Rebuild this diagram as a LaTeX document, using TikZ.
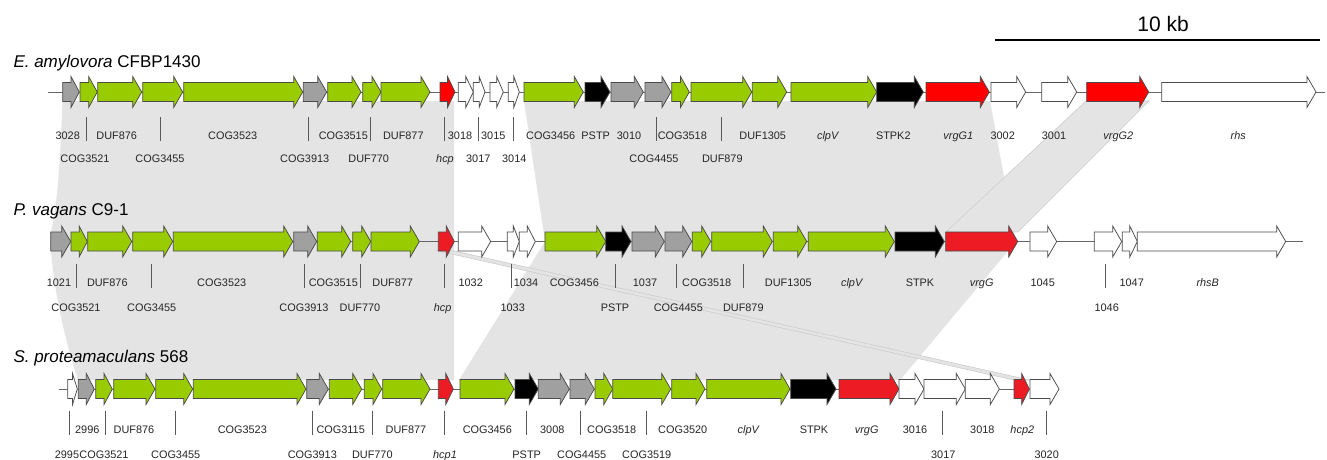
\documentclass[tikz,border=0pt]{standalone}
\usepackage{fontspec}
\setmainfont{Liberation Sans}
\definecolor{genegreen}{RGB}{153,204,0}
\definecolor{genegray}{RGB}{160,160,160}
\definecolor{redA}{RGB}{255,0,0}
\definecolor{redB}{RGB}{237,28,36}
\definecolor{bandfill}{RGB}{228,228,228}
\definecolor{bandedge}{RGB}{205,205,205}
\definecolor{outline}{RGB}{75,75,75}
\newcounter{labno}
% gene arrow: start x, end x, row centre y, fill colour
\newcommand\genearrow[4]{%
  \pgfmathsetmacro\headlen{min(9,0.5*(#2-#1))}%
  \draw[genestyle,fill=#4] ({#1},{#3-9.5}) -- ({#2-\headlen},{#3-9.5}) -- ({#2-\headlen},{#3-15.5})
    -- ({#2},{#3}) -- ({#2-\headlen},{#3+15.5}) -- ({#2-\headlen},{#3+9.5}) -- ({#1},{#3+9.5}) -- cycle;}
% gene label: centre x, baseline y, text
\newcommand\genelab[3]{\stepcounter{labno}\node[lab] (lab\arabic{labno}) at (#1,#2) {#3};}
% label tick: x, top y, bottom y
\newcommand\labtick[3]{\draw[tickline] (#1,#2) -- (#1,#3);}
\tikzset{
  genestyle/.style={draw=outline,line width=0.75pt,line join=miter},
  lab/.style={anchor=base,inner sep=0pt,font=\fontsize{10.9}{12}\selectfont,text=black!85},
  tickline/.style={draw=black!65,line width=1pt},
  backbone/.style={draw=black!60,line width=1pt},
  band/.style={fill=bandfill,draw=none},
  strip/.style={fill=bandfill,draw=bandedge,line width=0.6pt},
  title/.style={anchor=base west,inner sep=0pt,font=\fontsize{17}{20}\selectfont},
}
\begin{document}
\begin{tikzpicture}[x=1pt,y=-1pt]
\useasboundingbox (0,0) rectangle (1327,459);
\fill[white] (0,0) rectangle (1327,459);

% ---- comparison bands ----
\fill[band] (62.5,101) -- (454,101) -- (454,241.5) -- (50.7,241.5) -- (51,232) .. controls (57,205) and (60,170) .. cycle;
\fill[band] (524,101) -- (990,101) -- (1016,241.5) -- (545,241.5) -- cycle;
\filldraw[strip] (1086,101) -- (1149,101) -- (1018,232) -- (946,232) -- cycle;
\fill[band] (50.7,241.5) -- (454,241.5) -- (454,380) -- (78,380) .. controls (68,350) and (55,300) .. (51,251) -- cycle;
\fill[band] (545,241.5) -- (1016,241.5) -- (900,380) -- (459,380) -- cycle;
\filldraw[strip] (438.3,251) -- (454.3,251) -- (1029.3,380) -- (1014,380) -- cycle;

% ---- scale bar ----
\draw[line width=2pt] (995,40) -- (1320,40);
\node[anchor=base,inner sep=0pt,font=\fontsize{21}{24}\selectfont] (scale) at (1163,31.7) {10 kb};

% ---- titles ----
\node[title] (t1) at (13.3,67.3) {\itshape E. amylovora\upshape{} CFBP1430};
\node[title] (t2) at (13.3,215.7) {\itshape P. vagans\upshape{} C9-1};
\node[title] (t3) at (13.3,362.7) {\itshape S. proteamaculans\upshape{} 568};

% ---- row 1 ----
\def\ry{92}
\draw[backbone] (48,\ry) -- (1325,\ry);
\genearrow{62.7}{79.3}{\ry}{genegray}
\genearrow{80}{97.3}{\ry}{genegreen}
\genearrow{97.7}{141.7}{\ry}{genegreen}
\genearrow{142.7}{182.7}{\ry}{genegreen}
\genearrow{183.7}{302.7}{\ry}{genegreen}
\genearrow{303.3}{326.7}{\ry}{genegray}
\genearrow{327.7}{361}{\ry}{genegreen}
\genearrow{362.7}{381}{\ry}{genegreen}
\genearrow{381}{430}{\ry}{genegreen}
\genearrow{440}{455}{\ry}{redA}
\genearrow{458.3}{473.3}{\ry}{white}
\genearrow{473.3}{485}{\ry}{white}
\genearrow{490}{503.3}{\ry}{white}
\genearrow{508.3}{519.3}{\ry}{white}
\genearrow{524}{583.3}{\ry}{genegreen}
\genearrow{585}{610}{\ry}{black}
\genearrow{611}{643.3}{\ry}{genegray}
\genearrow{645}{671}{\ry}{genegray}
\genearrow{671.7}{689.3}{\ry}{genegreen}
\genearrow{691}{751.7}{\ry}{genegreen}
\genearrow{752.3}{786.7}{\ry}{genegreen}
\genearrow{791}{876.7}{\ry}{genegreen}
\genearrow{876.7}{923.3}{\ry}{black}
\genearrow{926}{989.3}{\ry}{redA}
\genearrow{991}{1025.7}{\ry}{white}
\genearrow{1041.7}{1076.7}{\ry}{white}
\genearrow{1086.7}{1148.7}{\ry}{redA}
\genearrow{1161.7}{1316}{\ry}{white}

\def\ua{139.3}\def\la{162}\def\tta{117.3}\def\tba{140.7}
\genelab{67.7}{\ua}{3028}
\genelab{116.7}{\ua}{DUF876}
\genelab{232.7}{\ua}{COG3523}
\genelab{343.3}{\ua}{COG3515}
\genelab{403.3}{\ua}{DUF877}
\genelab{460}{\ua}{3018}
\genelab{493.3}{\ua}{3015}
\genelab{550.7}{\ua}{COG3456}
\genelab{595.7}{\ua}{PSTP}
\genelab{629}{\ua}{3010}
\genelab{682.3}{\ua}{COG3518}
\genelab{762.7}{\ua}{DUF1305}
\genelab{827.7}{\ua}{\itshape clpV}
\genelab{893.3}{\ua}{STPK2}
\genelab{958.3}{\ua}{\itshape vrgG1}
\genelab{1002.7}{\ua}{3002}
\genelab{1054}{\ua}{3001}
\genelab{1118.3}{\ua}{\itshape vrgG2}
\genelab{1238.3}{\ua}{\itshape rhs}
\labtick{86}{\tta}{\tba}
\labtick{160}{\tta}{\tba}
\labtick{308.7}{\tta}{\tba}
\labtick{370}{\tta}{\tba}
\labtick{444.3}{\tta}{\tba}
\labtick{478.3}{\tta}{\tba}
\labtick{513.3}{\tta}{\tba}
\labtick{656}{\tta}{\tba}
\labtick{721}{\tta}{\tba}
\genelab{85}{\la}{COG3521}
\genelab{160}{\la}{COG3455}
\genelab{304.7}{\la}{COG3913}
\genelab{368.7}{\la}{DUF770}
\genelab{445}{\la}{\itshape hcp}
\genelab{478.3}{\la}{3017}
\genelab{514.3}{\la}{3014}
\genelab{654}{\la}{COG4455}
\genelab{722.3}{\la}{DUF879}

% ---- row 2 ----
\def\ry{241.5}
\draw[backbone] (50.7,\ry) -- (1302.7,\ry);
\genearrow{50.7}{70.7}{\ry}{genegray}
\genearrow{71}{87.3}{\ry}{genegreen}
\genearrow{87.7}{131.7}{\ry}{genegreen}
\genearrow{132.7}{172.7}{\ry}{genegreen}
\genearrow{173.3}{292.7}{\ry}{genegreen}
\genearrow{293.7}{316.7}{\ry}{genegray}
\genearrow{317.3}{350.7}{\ry}{genegreen}
\genearrow{352.7}{370.7}{\ry}{genegreen}
\genearrow{371}{419.3}{\ry}{genegreen}
\genearrow{438.3}{454.3}{\ry}{redB}
\genearrow{458.3}{490.7}{\ry}{white}
\genearrow{507.3}{519.3}{\ry}{white}
\genearrow{519.3}{535.3}{\ry}{white}
\genearrow{545}{605.7}{\ry}{genegreen}
\genearrow{605.7}{631}{\ry}{black}
\genearrow{632}{664.3}{\ry}{genegray}
\genearrow{665}{691.7}{\ry}{genegray}
\genearrow{692.3}{710.7}{\ry}{genegreen}
\genearrow{711.7}{772.3}{\ry}{genegreen}
\genearrow{773.3}{806.7}{\ry}{genegreen}
\genearrow{808.3}{894.3}{\ry}{genegreen}
\genearrow{895}{944.3}{\ry}{black}
\genearrow{945.7}{1017.7}{\ry}{redB}
\genearrow{1030}{1056.7}{\ry}{white}
\genearrow{1094.3}{1121.7}{\ry}{white}
\genearrow{1122.3}{1137.3}{\ry}{white}
\genearrow{1137.3}{1285.7}{\ry}{white}

\def\ub{286.7}\def\lb{311}\def\ttb{264.3}\def\tbb{288.3}
\genelab{59}{\ub}{1021}
\genelab{107.3}{\ub}{DUF876}
\genelab{221.7}{\ub}{COG3523}
\genelab{333.3}{\ub}{COG3515}
\genelab{392.7}{\ub}{DUF877}
\genelab{470.7}{\ub}{1032}
\genelab{526}{\ub}{1034}
\genelab{574.3}{\ub}{COG3456}
\genelab{645}{\ub}{1037}
\genelab{706.7}{\ub}{COG3518}
\genelab{788.3}{\ub}{DUF1305}
\genelab{851.7}{\ub}{\itshape clpV}
\genelab{920}{\ub}{STPK}
\genelab{981.7}{\ub}{\itshape vrgG}
\genelab{1042.7}{\ub}{1045}
\genelab{1131.7}{\ub}{1047}
\genelab{1207.7}{\ub}{\itshape rhsB}
\labtick{76}{\ttb}{\tbb}
\labtick{151.7}{\ttb}{\tbb}
\labtick{304}{\ttb}{\tbb}
\labtick{360}{\ttb}{\tbb}
\labtick{444}{\ttb}{\tbb}
\labtick{511.7}{\ttb}{\tbb}
\labtick{615}{\ttb}{\tbb}
\labtick{676.7}{\ttb}{\tbb}
\labtick{743.3}{\ttb}{\tbb}
\labtick{1105.7}{\ttb}{\tbb}
\genelab{76}{\lb}{COG3521}
\genelab{151.7}{\lb}{COG3455}
\genelab{304}{\lb}{COG3913}
\genelab{360}{\lb}{DUF770}
\genelab{442.7}{\lb}{\itshape hcp}
\genelab{512.7}{\lb}{1033}
\genelab{615}{\lb}{PSTP}
\genelab{678.3}{\lb}{COG4455}
\genelab{743.3}{\lb}{DUF879}
\genelab{1106.7}{\lb}{1046}

% ---- row 3 ----
\def\ry{389}
\draw[backbone] (59.3,\ry) -- (1030,\ry);
\genearrow{67.7}{77.3}{\ry}{white}
\genearrow{78.3}{94.3}{\ry}{genegray}
\genearrow{95.7}{112.3}{\ry}{genegreen}
\genearrow{113.7}{155}{\ry}{genegreen}
\genearrow{155.7}{192.7}{\ry}{genegreen}
\genearrow{193.3}{306}{\ry}{genegreen}
\genearrow{306.7}{328.3}{\ry}{genegray}
\genearrow{329.3}{361.7}{\ry}{genegreen}
\genearrow{364.3}{381.7}{\ry}{genegreen}
\genearrow{382.7}{430}{\ry}{genegreen}
\genearrow{438.3}{453.3}{\ry}{redB}
\genearrow{460}{514}{\ry}{genegreen}
\genearrow{515}{538.3}{\ry}{black}
\genearrow{538.3}{569.3}{\ry}{genegray}
\genearrow{570}{594.3}{\ry}{genegray}
\genearrow{595}{612.7}{\ry}{genegreen}
\genearrow{612.7}{670.7}{\ry}{genegreen}
\genearrow{671.7}{705}{\ry}{genegreen}
\genearrow{706.7}{790}{\ry}{genegreen}
\genearrow{790.7}{836}{\ry}{black}
\genearrow{839}{899}{\ry}{redB}
\genearrow{899}{924}{\ry}{white}
\genearrow{924}{965.3}{\ry}{white}
\genearrow{965.3}{999.3}{\ry}{white}
\genearrow{1014}{1029.3}{\ry}{redB}
\genearrow{1030}{1059}{\ry}{white}

\def\uc{433.3}\def\lc{458}\def\ttc{410.7}\def\tbc{435}
\genelab{87.3}{\uc}{2996}
\genelab{134}{\uc}{DUF876}
\genelab{242.3}{\uc}{COG3523}
\genelab{340.7}{\uc}{COG3115}
\genelab{406}{\uc}{DUF877}
\genelab{487.3}{\uc}{COG3456}
\genelab{552.3}{\uc}{3008}
\genelab{611.7}{\uc}{COG3518}
\genelab{682.7}{\uc}{COG3520}
\genelab{748.3}{\uc}{\itshape clpV}
\genelab{814}{\uc}{STPK}
\genelab{866.7}{\uc}{\itshape vrgG}
\genelab{915}{\uc}{3016}
\genelab{982.3}{\uc}{3018}
\genelab{1022.3}{\uc}{\itshape hcp2}
\labtick{69}{\ttc}{\tbc}
\labtick{105}{\ttc}{\tbc}
\labtick{175}{\ttc}{\tbc}
\labtick{312.3}{\ttc}{\tbc}
\labtick{372.3}{\ttc}{\tbc}
\labtick{444.3}{\ttc}{\tbc}
\labtick{526}{\ttc}{\tbc}
\labtick{580.7}{\ttc}{\tbc}
\labtick{646}{\ttc}{\tbc}
\labtick{942.7}{\ttc}{\tbc}
\labtick{1046}{\ttc}{\tbc}
\genelab{67}{\lc}{2995}
\genelab{104}{\lc}{COG3521}
\genelab{175.7}{\lc}{COG3455}
\genelab{312.3}{\lc}{COG3913}
\genelab{372.3}{\lc}{DUF770}
\genelab{445}{\lc}{\itshape hcp1}
\genelab{526.7}{\lc}{PSTP}
\genelab{581.7}{\lc}{COG4455}
\genelab{646.7}{\lc}{COG3519}
\genelab{943.3}{\lc}{3017}
\genelab{1046.7}{\lc}{3020}
\end{tikzpicture}
\end{document}
